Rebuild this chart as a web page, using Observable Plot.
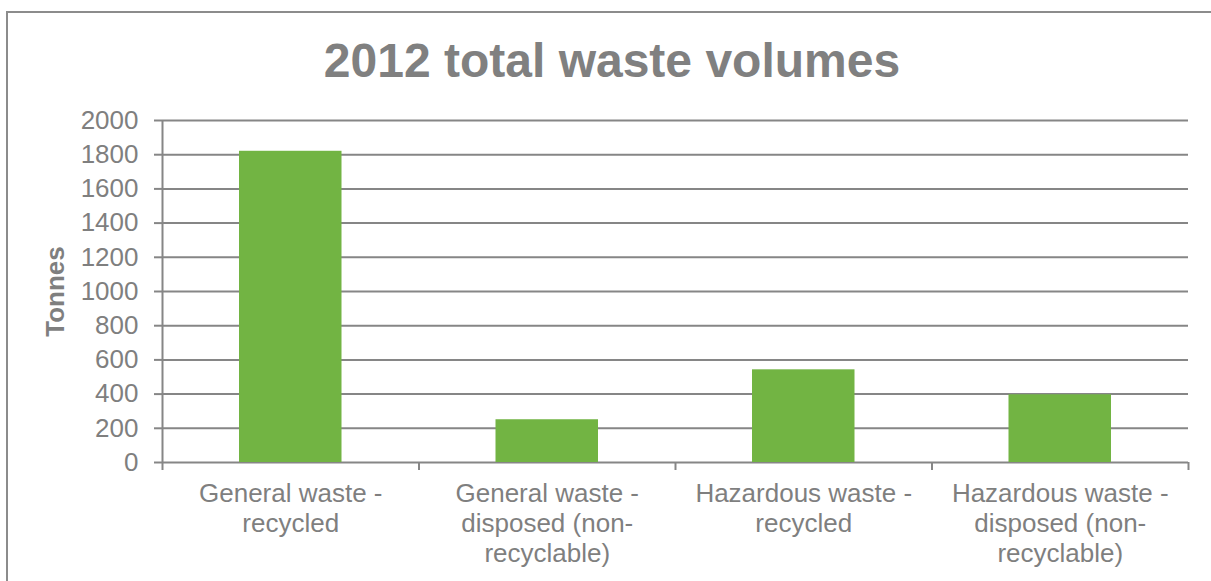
<!DOCTYPE html>
<html>
<head>
<meta charset="utf-8">
<script src="https://cdn.jsdelivr.net/npm/d3@7"></script>
<script src="https://cdn.jsdelivr.net/npm/@observablehq/plot@0.6"></script>
<style>
  html, body { margin: 0; padding: 0; background: #fff; }
  #wrap { position: relative; width: 1211px; height: 581px; overflow: hidden; font-family: "Liberation Sans", Arial, sans-serif; }
  #frame { position: absolute; left: 6px; top: 11px; width: 1300px; height: 700px; border-top: 2px solid #8c8c8c; border-left: 2px solid #8c8c8c; box-sizing: border-box; }
  #title { position: absolute; left: 0; top: 37px; width: 1224px; text-align: center; font-size: 48px; line-height: 48px; font-weight: bold; color: #808080; }
  #chart { position: absolute; left: 0; top: 0; }
</style>
</head>
<body>
<div id="wrap">
  <div id="frame"></div>
  <div id="chart"></div>
  <div id="title">2012 total waste volumes</div>
</div>
<script>
const categories = [
  "General waste - recycled",
  "General waste - disposed (non-recyclable)",
  "Hazardous waste - recycled",
  "Hazardous waste - disposed (non-recyclable)"
];
const categoryLabels = [
  "General waste -\nrecycled",
  "General waste -\ndisposed (non-\nrecyclable)",
  "Hazardous waste -\nrecycled",
  "Hazardous waste -\ndisposed (non-\nrecyclable)"
];
const tonnes = [1820, 250, 542, 396];
const yTicks = [0, 200, 400, 600, 800, 1000, 1200, 1400, 1600, 1800, 2000];

const data = categories.map((c, i) => ({category: c, label: categoryLabels[i], index: i, value: tonnes[i]}));
const gray = "#868686";
const textGray = "#7f7f7f";

const chart = Plot.plot({
  width: 1211,
  height: 581,
  marginLeft: 162,
  marginRight: 23,
  marginTop: 120,
  marginBottom: 119,
  style: {background: "transparent", fontFamily: "'Liberation Sans', Arial, sans-serif", overflow: "visible"},
  x: {domain: [0, categories.length], axis: null},
  y: {domain: [0, 2000], axis: null},
  marks: [
    Plot.gridY(yTicks, {stroke: gray, strokeOpacity: 1, strokeWidth: 2}),
    Plot.axisY(yTicks, {tickSize: 8, tickPadding: 16, stroke: gray, strokeWidth: 2, fill: textGray, fontSize: 26, tickFormat: d => String(d), label: null}),
    Plot.ruleX([0], {stroke: gray, strokeWidth: 2}),
    Plot.axisX(d3.range(categories.length + 1), {tickSize: 8, stroke: gray, strokeWidth: 2, tickFormat: () => "", label: null}),
    Plot.rectY(data, {x1: d => d.index, x2: d => d.index + 1, y1: 0, y2: "value", fill: "#72B443", insetLeft: 77, insetRight: 77}),
    Plot.text(data, {x: d => d.index + 0.5, y: 0, text: "label", lineAnchor: "top", dy: 18, fontSize: 26, lineHeight: 1.15, fill: textGray}),
    Plot.text(["Tonnes"], {frameAnchor: "left", textAnchor: "middle", rotate: -90, dx: -107, fontSize: 26, fontWeight: "bold", fill: textGray})
  ]
});
document.getElementById("chart").appendChild(chart);
</script>
</body>
</html>
